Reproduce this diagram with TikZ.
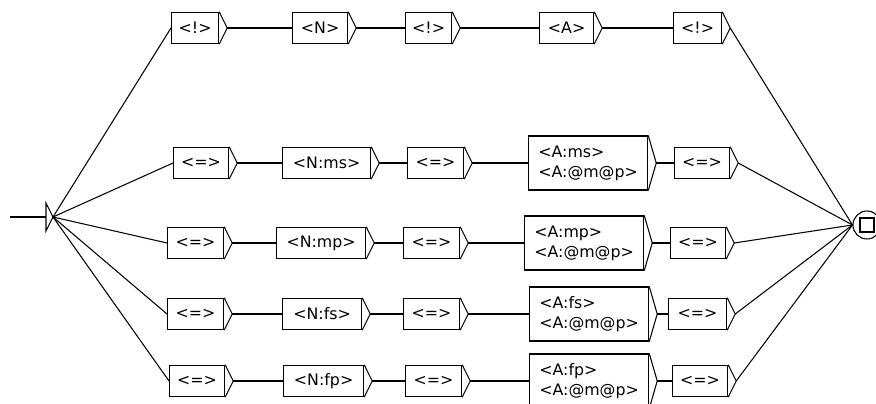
\documentclass[tikz,border=0pt]{standalone}
\usepackage{fontspec}
\setmainfont{DejaVu Sans}
\usepackage{tikz}
\usetikzlibrary{calc}
\newdimen\px
\px=0.02cm

\begin{document}
\begin{tikzpicture}[x=0.02cm,y=-0.02cm,line width=0.6pt,
    grfbox/.style={draw,line width=0.7pt,anchor=west,minimum height=31\px,
      inner sep=1pt,font=\fontsize{9}{11.4}\selectfont},
    bigbox/.style={grfbox,minimum height=54\px,align=left}]
        \useasboundingbox (0,0) rectangle (876,404);

        % initial state
        \coordinate (start) at (10,217);
        \coordinate (init) at (53,217);
        \coordinate (initback) at (46,217);
        \draw (46,203) -- (init) -- (46,231) -- cycle;
        \draw (start) -- (initback);

        % final state
        \node[draw,circle,minimum size=28\px,inner sep=0pt] (final) at (867,225) {};
        \node[draw,minimum size=14\px,inner sep=0pt] (finalsq) at (final.center) {};

        % row 1
        \node[grfbox,minimum width=47\px] (a1) at (171,28) {<!>};
        \node[grfbox,minimum width=55\px] (b1) at (292,28) {<N>};
        \node[grfbox,minimum width=46\px] (c1) at (405,28) {<!>};
        \node[grfbox,minimum width=54\px] (d1) at (539,28) {<A>};
        \node[grfbox,minimum width=48\px] (e1) at (673,28) {<!>};

        % row 2
        \node[grfbox,minimum width=55\px] (a2) at (173,163) {<=>};
        \node[grfbox,minimum width=88\px] (b2) at (282,163) {<N:ms>};
        \node[grfbox,minimum width=56\px] (c2) at (407,163) {<=>};
        \node[bigbox,minimum width=119\px] (d2) at (528,163) {<A:ms>\\<A:@m@p>};
        \node[grfbox,minimum width=55\px] (e2) at (674,163) {<=>};

        % row 3
        \node[grfbox,minimum width=56\px] (a3) at (167,243) {<=>};
        \node[grfbox,minimum width=89\px] (b3) at (276,243) {<N:mp>};
        \node[grfbox,minimum width=56\px] (c3) at (403,243) {<=>};
        \node[bigbox,minimum width=119\px] (d3) at (524,243) {<A:mp>\\<A:@m@p>};
        \node[grfbox,minimum width=55\px] (e3) at (670,243) {<=>};

        % row 4
        \node[grfbox,minimum width=56\px] (a4) at (167,314) {<=>};
        \node[grfbox,minimum width=79\px] (b4) at (282,314) {<N:fs>};
        \node[grfbox,minimum width=56\px] (c4) at (403,314) {<=>};
        \node[bigbox,minimum width=119\px] (d4) at (529,314) {<A:fs>\\<A:@m@p>};
        \node[grfbox,minimum width=58\px] (e4) at (668,314) {<=>};

        % row 5
        \node[grfbox,minimum width=55\px] (a5) at (169,381) {<=>};
        \node[grfbox,minimum width=80\px] (b5) at (283,381) {<N:fp>};
        \node[grfbox,minimum width=56\px] (c5) at (405,381) {<=>};
        \node[bigbox,minimum width=119\px] (d5) at (529,381) {<A:fp>\\<A:@m@p>};
        \node[grfbox,minimum width=55\px] (e5) at (672,381) {<=>};

        % output arrows on the boxes
        \foreach \c in {a,b,c,d,e} {
          \foreach \r in {1,...,5} {
            \coordinate (\c\r-tip) at ([xshift=8\px]\c\r.east);
            \draw (\c\r.north east) -- (\c\r-tip) -- (\c\r.south east);
          }
        }

        % transitions
        \foreach \r in {1,...,5} {
          \draw (init) -- (a\r.west);
          \draw (a\r-tip) -- (b\r.west);
          \draw (b\r-tip) -- (c\r.west);
          \draw (c\r-tip) -- (d\r.west);
          \draw (d\r-tip) -- (e\r.west);
          \draw (e\r-tip) -- (final.west);
        }
      \end{tikzpicture}
\end{document}
